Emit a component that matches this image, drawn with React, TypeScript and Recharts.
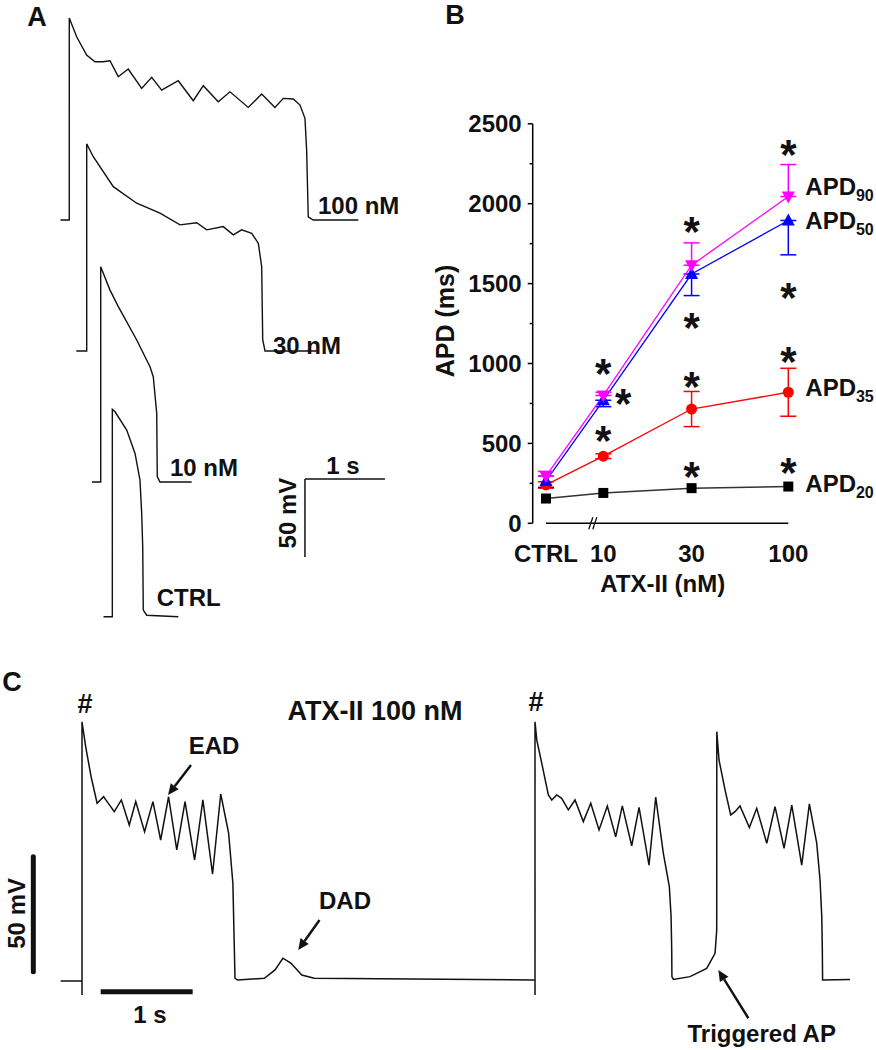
import React from "react";
import {
  LineChart,
  ComposedChart,
  Line,
  Scatter,
  XAxis,
  YAxis,
  ErrorBar,
  ReferenceLine,
  ReferenceDot,
} from "recharts";

const FONT = '"Liberation Sans", Arial, Helvetica, sans-serif';
const INK = "#111";

// ---------- A: single action potentials, [ms from upstroke, mV]
const apCtrl = [
  [-110, -85], [0, -85], [0, 48], [34, 46.4], [180, 34.7], [284, 19.7], [346, 2.6],
  [367, -18.7], [380, -40.1], [387, -80.7], [430, -84], [825, -85],
];
const ap10nM = [
  [-110, -85], [0, -85], [0, 53], [116, 38], [220, 27.4], [450, 6], [616, -11.1],
  [657, -17.5], [700, -41], [707, -81.6], [741, -85], [1137, -85],
];
const ap30nM = [
  [-130, -85], [0, -85], [0, 47.7], [82, 39.5], [332, 20.3], [625, 9.7], [916, 3.3],
  [1166, -4.2], [1375, -2.8], [1500, -7.4], [1707, -5.3], [1832, -10.6], [1937, -7.4],
  [2062, -9.6], [2145, -16], [2187, -31], [2200, -78], [2229, -85], [2875, -85],
];
const ap100nM = [
  [-110, -85], [0, -85], [0, 44.5], [92, 32.5], [217, 20.8], [321, 16.5], [421, 16.5],
  [509, 17.1], [612, 6.9], [737, 11.8], [905, -0.6], [1030, 6.5], [1155, -1.7],
  [1362, 4.3], [1550, -8.5], [1675, 1.1], [1862, -9.2], [2009, -2.8], [2237, -12.8],
  [2405, -4.2], [2571, -12.8], [2675, -7], [2800, -7.4], [2884, -11.3], [2946, -19.8],
  [2967, -40.1], [2987, -82.9], [3050, -85], [3612, -85],
];
const sweepNames = ["CTRL", "10 nM", "30 nM", "100 nM"];

// where each sweep sits on the page (start time, vertical shift) and its label spot
const sweepPlace = [
  { dt: 904, dv: 99.9, lt: 555, lv: -72.3 },
  { dt: 759, dv: 186.3, lt: 866, lv: -75.4 },
  { dt: 584, dv: 270.3, lt: 2328, lv: -81.2 },
  { dt: 366, dv: 354.2, lt: 3109, lv: -75.4 },
];
const aBar = { t: 3312, v: 103.2, ms: 1000, mv: 50 };

// ---------- B: APD vs ATX-II
const conditions = ["CTRL", "10", "30", "100"];
const concPos = [4.9, 10, 30, 100]; // CTRL sits left of the axis break
const apd20 = [155, 190, 220, 230];
const apd35 = [240, 420, 715, 820];
const apd50 = [265, 770, 1560, 1895];
const apd90 = [295, 800, 1615, 2045];
const apd35Err = [[20, 20], [15, 15], [110, 110], [150, 150]];
const apd50Err = [[40, 30], [40, 0], [135, 0], [215, 0]];
const apd90Err = [[0, 30], [0, 20], [0, 140], [0, 200]];
const yTicks = [0, 250, 500, 750, 1000, 1250, 1500, 1750, 2000, 2250, 2500];
const starX = [10, 10, 12.8, 30, 30, 30, 30, 100, 100, 100, 100];
const starY = [990, 571, 803, 1878, 1277, 908, 349, 2363, 1467, 1066, 370];

const bRows = conditions.map((c, i) => ({
  x: concPos[i],
  name: c,
  apd20: apd20[i],
  apd35: apd35[i],
  apd50: apd50[i],
  apd90: apd90[i],
  apd35Err: apd35Err[i],
  apd50Err: apd50Err[i],
  apd90Err: apd90Err[i],
}));
const stars = starX.map((x, i) => ({ x, y: starY[i] }));

// ---------- C: AP train with EADs / DAD, [ms, mV]
const apTrain = [
  [-232, -85], [0, -85], [0, -91.1], [0, 27.7], [40, 16.9], [99, 3.8], [164, -7.7],
  [235, -4.9], [273, -7], [351, -11.4], [428, -6.3], [514, -17.2], [584, -7],
  [680, -20.1], [771, -7], [855, -23.7], [941, -4.9], [1030, -28], [1120, -7],
  [1224, -32.4], [1314, -6.3], [1419, -38.5], [1508, -3.7], [1594, -20.8],
  [1640, -42.5], [1663, -83.8], [1690, -84.6], [1982, -83.8], [2098, -80.2],
  [2184, -75.1], [2273, -77.3], [2389, -82.4], [2525, -83.8], [4912, -84.6],
  [4924, -84.6], [4924, -91.1], [4924, 27.7], [4943, 19.8], [4997, 9.7], [5069, -4.1],
  [5106, -6.3], [5160, -4.1], [5214, -5.6], [5286, -10.6], [5359, -6.3], [5449, -15.7],
  [5530, -7.7], [5620, -19.3], [5710, -8.9], [5801, -22.3], [5873, -8.9], [5975, -26.2],
  [6055, -9.5], [6163, -34.6], [6236, -5.1], [6319, -29.5], [6384, -44], [6403, -57],
  [6410, -71.5], [6412, -83.1], [6428, -84.3], [6609, -83.1], [6790, -79.5],
  [6881, -73], [6899, -62.8], [6900, 23.4], [6924, 11.1], [6990, -2], [7051, -12.8],
  [7098, -11.4], [7152, -8.9], [7254, -18.3], [7334, -9.9], [7443, -25.1], [7533, -9.2],
  [7631, -27.3], [7715, -8.5], [7823, -34.6], [7906, -8], [7986, -25.1], [8022, -41.1],
  [8041, -57], [8047, -71.5], [8050, -84.6], [8348, -84.3],
];
const cNotes = [
  { text: "#", t: 33, v: 35.7, size: 27 },
  { text: "#", t: 4935, v: 36.4, size: 27 },
  { text: "ATX-II 100 nM", t: 3185, v: 32.8, size: 27 },
  { text: "EAD", t: 1435, v: 17.6, size: 24 },
  { text: "DAD", t: 2859, v: -49.8, size: 24 },
  { text: "Triggered AP", t: 7388, v: -107.6, size: 24 },
  { text: "1 s", t: 739, v: -99.3, size: 24 },
];
const cArrows = [
  { from: [1185, 8.9], to: [935, -4.1] },
  { from: [2582, -58.5], to: [2350, -71.5] },
  { from: [7243, -101.2], to: [6917, -80.2] },
];

const aSweeps = [apCtrl, ap10nM, ap30nM, ap100nM].map((pts, i) =>
  pts.map(([t, v]) => ({ t: t + sweepPlace[i].dt, v: v + sweepPlace[i].dv }))
);
const cRows = apTrain.map(([t, v]) => ({ t, v }));

const textShape =
  (label: string, size: number, anchor = "middle", rotate = false) =>
  (p: any) => {
    const style = { fontFamily: FONT, fontWeight: 700, fontSize: size, fill: INK } as any;
    if (rotate)
      return (
        <text transform={`translate(${p.cx},${p.cy}) rotate(-90)`} x={0} y={size * 0.36} textAnchor="middle" style={style}>
          {label}
        </text>
      );
    return (
      <text x={p.cx} y={p.cy + size * 0.36} textAnchor={anchor} style={style}>
        {label}
      </text>
    );
  };

const Arrow = (p: any) => {
  const { x1, y1, x2, y2 } = p;
  const a = Math.atan2(y2 - y1, x2 - x1);
  const L = 11;
  const W = 5;
  const bx = x2 - L * Math.cos(a);
  const by = y2 - L * Math.sin(a);
  const pts = `${x2},${y2} ${bx - W * Math.sin(a)},${by + W * Math.cos(a)} ${bx + W * Math.sin(a)},${by - W * Math.cos(a)}`;
  return (
    <g>
      <line x1={x1} y1={y1} x2={bx} y2={by} stroke={INK} strokeWidth={2.4} />
      <polygon points={pts} fill={INK} />
    </g>
  );
};

const YTick = (p: any) => {
  const v = p.payload.value;
  const major = v % 500 === 0;
  return (
    <g>
      <line x1={p.x - (major ? 5 : 3)} x2={p.x} y1={p.y} y2={p.y} stroke="#000" strokeWidth={1.5} />
      {major && (
        <text x={p.x - 11} y={p.y + 8.6} textAnchor="end" style={{ fontFamily: FONT, fontWeight: 700, fontSize: 24, fill: INK }}>
          {v}
        </text>
      )}
    </g>
  );
};

const XTick = (p: any) => {
  const i = concPos.indexOf(p.payload.value);
  return (
    <text x={p.x} y={p.y + 38.6} textAnchor="middle" style={{ fontFamily: FONT, fontWeight: 700, fontSize: 24, fill: INK }}>
      {conditions[i]}
    </text>
  );
};

const square = (p: any) =>
  p.cx == null ? null : <rect key={p.index} x={p.cx - 5} y={p.cy - 5} width={10} height={10} fill="#000" />;
const circle = (p: any) =>
  p.cx == null ? null : <circle key={p.index} cx={p.cx} cy={p.cy} r={5.5} fill="#ff0000" />;
const triUp = (p: any) =>
  p.cx == null ? null : (
    <polygon key={p.index} points={`${p.cx},${p.cy - 7} ${p.cx - 6.5},${p.cy + 5} ${p.cx + 6.5},${p.cy + 5}`} fill="#0000ff" />
  );
const triDown = (p: any) =>
  p.cx == null ? null : (
    <polygon key={p.index} points={`${p.cx - 6.5},${p.cy - 5} ${p.cx + 6.5},${p.cy - 5} ${p.cx},${p.cy + 7}`} fill="#ff00ff" />
  );

const starShape = (p: any) => (
  <text x={p.cx} y={p.cy + 23} textAnchor="middle" style={{ fontFamily: FONT, fontWeight: 700, fontSize: 42, fill: INK }}>
    *
  </text>
);

const apdLabel = (sub: string, dy: number) => (p: any) => (
  <text x={p.cx + 17} y={p.cy + dy + 8.6} style={{ fontFamily: FONT, fontWeight: 700, fontSize: 24, fill: INK }}>
    APD<tspan fontSize={16} dy={6}>{sub}</tspan>
  </text>
);

const breakMark = (p: any) => (
  <g stroke="#000" strokeWidth={1.2}>
    <line x1={p.cx - 4.5} y1={p.cy + 6} x2={p.cx - 0.5} y2={p.cy - 6} />
    <line x1={p.cx - 0.5} y1={p.cy + 6} x2={p.cx + 3.5} y2={p.cy - 6} />
  </g>
);

const letterStyle = { fontFamily: FONT, fontWeight: 700, fontSize: 27, fill: INK } as any;

export default function App() {
  return (
    <div style={{ position: "absolute", left: 0, top: 0, width: 876, height: 1050, background: "#fff" }}>
      <svg width={876} height={1050} style={{ position: "absolute", left: 0, top: 0 }}>
        <text x={37} y={26} textAnchor="middle" style={letterStyle}>A</text>
        <text x={455} y={24} textAnchor="middle" style={letterStyle}>B</text>
        <text x={12} y={691} textAnchor="middle" style={letterStyle}>C</text>
      </svg>

      {/* A */}
      <div style={{ position: "absolute", left: 40, top: 0 }}>
        <LineChart width={400} height={640} margin={{ top: 0, right: 0, bottom: 0, left: 0 }}>
          <XAxis type="number" dataKey="t" domain={[0, 5000]} hide allowDataOverflow />
          <YAxis type="number" domain={[0, 640 / 1.56]} hide allowDataOverflow />
          {aSweeps.map((d, i) => (
            <Line
              key={sweepNames[i]}
              data={d}
              dataKey="v"
              type="linear"
              dot={false}
              stroke={INK}
              strokeWidth={1.4}
              isAnimationActive={false}
            />
          ))}
          {sweepPlace.map((s, i) => (
            <ReferenceDot
              key={"l" + i}
              x={s.dt + s.lt}
              y={s.dv + s.lv}
              r={0}
              shape={textShape(sweepNames[i], 24, "start")}
            />
          ))}
          <ReferenceLine
            segment={[{ x: aBar.t, y: aBar.v }, { x: aBar.t + aBar.ms, y: aBar.v }]}
            stroke={INK}
            strokeWidth={1.5}
          />
          <ReferenceLine
            segment={[{ x: aBar.t, y: aBar.v }, { x: aBar.t, y: aBar.v - aBar.mv }]}
            stroke={INK}
            strokeWidth={1.5}
          />
          <ReferenceDot x={aBar.t + 475} y={aBar.v + 9} r={0} shape={textShape("1 s", 24)} />
          <ReferenceDot x={aBar.t - 225} y={aBar.v - 21.8} r={0} shape={textShape("50 mV", 24, "middle", true)} />
        </LineChart>
      </div>

      {/* B */}
      <div style={{ position: "absolute", left: 420, top: 80 }}>
        <ComposedChart width={456} height={520} data={bRows} margin={{ top: 43.8, right: 32, bottom: 16.7, left: 0 }}>
          <XAxis
            dataKey="x"
            type="number"
            scale="log"
            domain={[4.153, 200]}
            ticks={concPos}
            interval={0}
            allowDataOverflow
            axisLine={false}
            tickLine={false}
            tickSize={0}
            tickMargin={0}
            height={60}
            tick={XTick}
            label={{
              content: (p: any) => (
                <text
                  x={p.viewBox.x + 130}
                  y={p.viewBox.y + 68.6}
                  textAnchor="middle"
                  style={{ fontFamily: FONT, fontWeight: 700, fontSize: 24, fill: INK }}
                >
                  ATX-II (nM)
                </text>
              ),
            }}
          />
          <YAxis
            type="number"
            domain={[0, 2500]}
            ticks={yTicks}
            interval={0}
            allowDataOverflow
            width={112.7}
            tickLine={false}
            tickSize={0}
            tickMargin={0}
            axisLine={{ stroke: "#000", strokeWidth: 1.5 }}
            tick={YTick}
            label={{
              content: (p: any) => (
                <text
                  transform={`translate(${p.viewBox.x + 25},${p.viewBox.y + p.viewBox.height / 2 - 2.6}) rotate(-90)`}
                  x={0}
                  y={8.6}
                  textAnchor="middle"
                  style={{ fontFamily: FONT, fontWeight: 700, fontSize: 25, fill: INK }}
                >
                  APD (ms)
                </text>
              ),
            }}
          />
          <ReferenceLine
            segment={[{ x: concPos[0], y: 0 }, { x: concPos[3], y: 0 }]}
            stroke="#000"
            strokeWidth={1.5}
          />
          <ReferenceDot x={8.83} y={0} r={0} shape={breakMark} />
          <Line dataKey="apd20" stroke="#333" strokeWidth={1.5} dot={square} isAnimationActive={false} />
          <Line dataKey="apd35" stroke="#ff0000" strokeWidth={1.3} dot={circle} isAnimationActive={false}>
            <ErrorBar dataKey="apd35Err" width={8} stroke="#ff0000" strokeWidth={1.5} direction="y" />
          </Line>
          <Line dataKey="apd50" stroke="#0000ff" strokeWidth={1.3} dot={triUp} isAnimationActive={false}>
            <ErrorBar dataKey="apd50Err" width={8} stroke="#0000ff" strokeWidth={1.5} direction="y" />
          </Line>
          <Line dataKey="apd90" stroke="#ff00ff" strokeWidth={1.3} dot={triDown} isAnimationActive={false}>
            <ErrorBar dataKey="apd90Err" width={8} stroke="#ff00ff" strokeWidth={1.5} direction="y" />
          </Line>
          <Scatter data={stars} dataKey="y" shape={starShape} isAnimationActive={false} />
          <ReferenceDot x={concPos[3]} y={apd90[3]} r={0} shape={apdLabel("90", -10)} />
          <ReferenceDot x={concPos[3]} y={apd50[3]} r={0} shape={apdLabel("50", 0)} />
          <ReferenceDot x={concPos[3]} y={apd35[3]} r={0} shape={apdLabel("35", -5)} />
          <ReferenceDot x={concPos[3]} y={apd20[3]} r={0} shape={apdLabel("20", -3)} />
        </ComposedChart>
      </div>

      {/* C */}
      <div style={{ position: "absolute", left: 0, top: 650 }}>
        <LineChart width={876} height={400} margin={{ top: 0, right: 0, bottom: 0, left: 0 }}>
          <XAxis type="number" dataKey="t" domain={[-891.3, 8630.4]} hide allowDataOverflow />
          <YAxis type="number" domain={[-115, 58.9]} hide allowDataOverflow />
          <Line data={cRows} dataKey="v" type="linear" dot={false} stroke={INK} strokeWidth={1.5} isAnimationActive={false} />
          <ReferenceLine segment={[{ x: 203, y: -89.7 }, { x: 1203, y: -89.7 }]} stroke={INK} strokeWidth={5} />
          <ReferenceLine
            segment={[{ x: -529, y: -81 }, { x: -529, y: -31 }]}
            stroke={INK}
            strokeWidth={5}
            strokeLinecap="round"
          />
          {cArrows.map((a, i) => (
            <ReferenceLine
              key={"a" + i}
              segment={[{ x: a.from[0], y: a.from[1] }, { x: a.to[0], y: a.to[1] }]}
              shape={Arrow}
            />
          ))}
          {cNotes.map((n, i) => (
            <ReferenceDot key={"n" + i} x={n.t} y={n.v} r={0} shape={textShape(n.text, n.size)} />
          ))}
          <ReferenceDot x={-717} y={-55.6} r={0} shape={textShape("50 mV", 24, "middle", true)} />
        </LineChart>
      </div>
    </div>
  );
}
